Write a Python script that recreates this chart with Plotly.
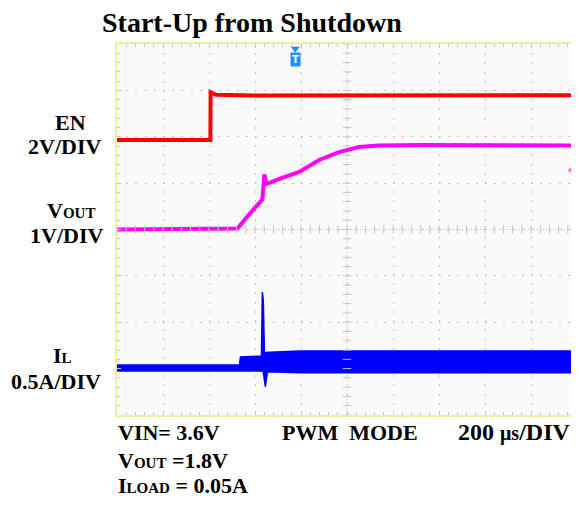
import plotly.graph_objects as go

# ---------------- data ----------------
# time axis in microseconds (200 us/DIV, 10 DIV)
en_time_us = [0, 406, 407, 430, 600, 2000]
en_volts = [0.0, 0.0, 2.06, 1.95, 1.92, 1.93]

vout_time_us = [0, 524, 563, 619, 632, 641, 649, 706, 792, 879, 965, 1052, 1139, 1312, 2000]
vout_volts = [0.0, 0.02, 0.26, 0.58, 0.65, 1.19, 0.98, 1.09, 1.24, 1.50, 1.67, 1.78, 1.81, 1.82, 1.81]

# inductor current: upper and lower envelope of the switching band
il_upper_time_us = [0, 532, 537, 628, 632, 636, 641, 792, 2000]
il_upper_amps = [0.034, 0.034, 0.12, 0.13, 0.82, 0.73, 0.17, 0.185, 0.185]
il_lower_time_us = [0, 532, 628, 636, 645, 654, 792, 2000]
il_lower_amps = [-0.03, -0.03, -0.03, -0.04, -0.20, -0.04, -0.05, -0.05]

trigger_time_us = 775
trigger_level_v = 1.28

# channel scale (units per DIV) and ground position (DIV from bottom)
EN_SCALE, EN_GND = 2.0, 5.93
VOUT_SCALE, VOUT_GND = 1.0, 4.0
IL_SCALE, IL_GND = 0.5, 1.01

US_PER_DIV = 200
N_XDIV, N_YDIV = 10, 8


def to_div(vals, scale, gnd):
    return [gnd + v / scale for v in vals]


FONT = "Liberation Serif"
RED = "#ff0000"
MAG = "#ff00ff"
BLUE = "#0000ff"

fig = go.Figure()

# EN
fig.add_trace(go.Scatter(x=en_time_us, y=to_div(en_volts, EN_SCALE, EN_GND),
                         mode="lines", line=dict(color=RED, width=4), hoverinfo="skip"))
# VOUT
fig.add_trace(go.Scatter(x=vout_time_us, y=to_div(vout_volts, VOUT_SCALE, VOUT_GND),
                         mode="lines", line=dict(color=MAG, width=4), hoverinfo="skip"))
# IL band (polygon of upper envelope then lower envelope reversed)
il_x = il_upper_time_us + il_lower_time_us[::-1]
il_y = to_div(il_upper_amps, IL_SCALE, IL_GND) + to_div(il_lower_amps, IL_SCALE, IL_GND)[::-1]
fig.add_trace(go.Scatter(x=il_x, y=il_y, mode="lines", fill="toself", fillcolor=BLUE,
                         line=dict(color=BLUE, width=1.5), hoverinfo="skip"))

# center graticule with fine ticks
xmax = US_PER_DIV * N_XDIV
xc = xmax / 2
yc = N_YDIV / 2
fig.add_shape(type="line", x0=xc, x1=xc, y0=0, y1=N_YDIV, line=dict(color="#c4c4c4", width=1, dash="1px,2px"), layer="below")
fig.add_shape(type="line", x0=0, x1=xmax, y0=yc, y1=yc, line=dict(color="#c4c4c4", width=1, dash="1px,2px"), layer="below")
fine_y = [i * 0.2 for i in range(N_YDIV * 5 + 1)]
fine_x = [i * US_PER_DIV / 5 for i in range(N_XDIV * 5 + 1)]
fig.add_trace(go.Scatter(x=[xc] * len(fine_y), y=fine_y, mode="markers",
                         marker=dict(symbol="line-ew", size=6, line=dict(color="#c4c4c4", width=1)), hoverinfo="skip"))
fig.add_trace(go.Scatter(x=fine_x, y=[yc] * len(fine_x), mode="markers",
                         marker=dict(symbol="line-ns", size=6, line=dict(color="#c4c4c4", width=1)), hoverinfo="skip"))

# channel ground markers on the left edge
fig.add_trace(go.Scatter(x=[-22, -22, -22], y=[EN_GND, VOUT_GND, IL_GND], mode="markers",
                         marker=dict(symbol="triangle-right", size=10,
                                     color=["#f4a8a8", "#f08cf0", "#a8a8f4"],
                                     line=dict(color="#d8d8d8", width=1)),
                         cliponaxis=False, hoverinfo="skip"))
# trigger level marker on the right edge
fig.add_trace(go.Scatter(x=[1978], y=[VOUT_GND + trigger_level_v / VOUT_SCALE], mode="markers",
                         marker=dict(symbol="triangle-left", size=9, color="#ff66ff"),
                         cliponaxis=False, hoverinfo="skip"))
# trigger position marker at the top
fig.add_trace(go.Scatter(x=[trigger_time_us], y=[7.9], mode="markers",
                         marker=dict(symbol="triangle-down", size=8, color="#1e8fff"),
                         cliponaxis=False, hoverinfo="skip"))

# the page body has an 8px margin: work in window pixels, shift into figure pixels
OFF = 8
FIG_W, FIG_H = 579 - OFF, 507 - 2 * OFF
L, T, W, H = 117 - OFF, 44 - OFF, 462, 371


def px(x):
    return (x - OFF - L) / W


def py(y):
    return (T + H - (y - OFF)) / H


annos = []


def txt(text, x, y, size, xanchor="center"):
    annos.append(dict(text=text, x=px(x), y=py(y), xref="paper", yref="paper",
                      xanchor=xanchor, yanchor="middle", showarrow=False,
                      font=dict(family=FONT, size=size, color="#000000")))


def sub(s, size=15):
    return f"<span style='font-size:{size}px'>{s}</span>"


txt("<b>Start-Up from Shutdown</b>", 253, 22, 28)
txt("<b>EN</b>", 70, 122, 22)
txt("<b>2V/DIV</b>", 64.5, 146, 22)
txt("<b>V" + sub("OUT") + "</b>", 71, 210.5, 22)
txt("<b>1V/DIV</b>", 66, 235, 22)
txt("<b>I" + sub("L") + "</b>", 62, 355, 22)
txt("<b>0.5A/DIV</b>", 56, 381, 22)
txt("<b>VIN= 3.6V</b>", 116, 432, 22, "left")
txt("<b>PWM  MODE</b>", 281, 432, 22, "left")
txt("<b>200 " + sub("μs", 20) + "/DIV</b>", 574, 432, 24, "right")
txt("<b>V" + sub("OUT") + " =1.8V</b>", 116, 460, 22, "left")
txt("<b>I" + sub("LOAD") + " = 0.05A</b>", 116, 485, 22, "left")

annos.append(dict(text="<b>T</b>", x=trigger_time_us, y=py(59), xref="x", yref="paper",
                  xanchor="center", yanchor="middle", showarrow=False,
                  font=dict(family="DejaVu Sans", size=10, color="white"),
                  bgcolor="#1e8fff", borderpad=1))

axis_common = dict(showticklabels=False, zeroline=False, showline=True, linecolor="#f0eca0",
                   linewidth=2, mirror="ticks", ticks="inside", ticklen=4, tickcolor="#c4c4c4",
                   showgrid=True, gridcolor="#c4c4c4", gridwidth=1, griddash="2px,7.2px",
                   fixedrange=True)

fig.update_layout(
    width=FIG_W, height=FIG_H,
    margin=dict(l=L, r=FIG_W - L - W, t=T, b=FIG_H - T - H, pad=0),
    paper_bgcolor="white", plot_bgcolor="#fafafa",
    showlegend=False,
    xaxis=dict(range=[0, xmax], dtick=US_PER_DIV, tick0=0,
               minor=dict(dtick=US_PER_DIV / 5, ticks="inside", ticklen=3, tickcolor="#c8c8c8", showgrid=False),
               **axis_common),
    yaxis=dict(range=[0, N_YDIV], dtick=1, tick0=0,
               minor=dict(dtick=0.2, ticks="inside", ticklen=3, tickcolor="#c8c8c8", showgrid=False),
               **axis_common),
    annotations=annos,
)

fig.write_html("out.html")
